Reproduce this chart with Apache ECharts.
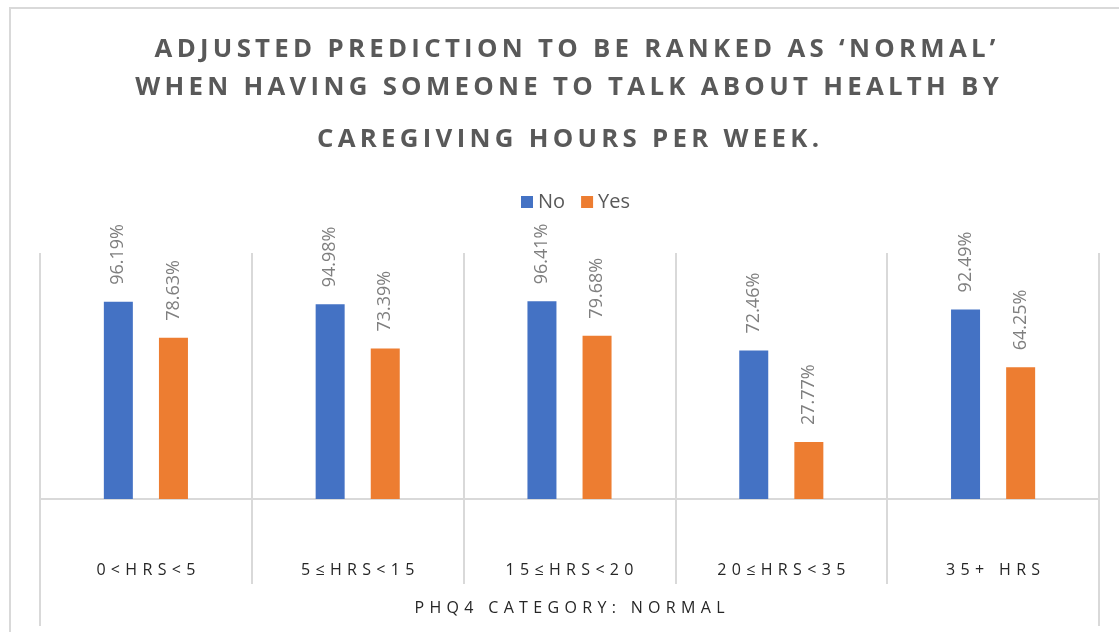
<!DOCTYPE html>
<html>
<head>
<meta charset="utf-8">
<script src="https://cdn.jsdelivr.net/npm/echarts@6/dist/echarts.min.js"></script>
<style>
  html, body { margin: 0; padding: 0; background: #fff; }
  #chart { width: 1119px; height: 632px; }
</style>
</head>
<body>
<div id="chart"></div>
<script>
const titleLines = [
  "ADJUSTED PREDICTION TO BE RANKED AS \u2018NORMAL\u2019",
  "WHEN HAVING SOMEONE TO TALK ABOUT HEALTH BY",
  "CAREGIVING HOURS PER WEEK."
];
const categories = ["0<HRS<5", "5\u2264HRS<15", "15\u2264HRS<20", "20\u2264HRS<35", "35+ HRS"];
const groupLabel = "PHQ4 CATEGORY: NORMAL";
const seriesNames = ["No", "Yes"];
const noValues = [96.19, 94.98, 96.41, 72.46, 92.49];
const yesValues = [78.63, 73.39, 79.68, 27.77, 64.25];

function spaced(s, sep) { return Array.from(s).join(sep); }

const FONT = "'Open Sans', 'Noto Sans', sans-serif";
const chart = echarts.init(document.getElementById('chart'), null, { renderer: 'canvas' });

const titleY = [32, 70, 122];
const titleX = [570, 562, 563];
const option = {
  backgroundColor: '#ffffff',
  animation: false,
  title: titleLines.map((t, i) => ({
    text: spaced(t, '\u2009'),
    left: titleX[i],
    textAlign: 'center',
    top: titleY[i],
    textStyle: { fontFamily: FONT, fontWeight: 'bold', fontSize: 25.8, color: '#595959' }
  })),
  graphic: [{
    type: 'polyline',
    shape: { points: [[10, 640], [10, 8], [1130, 8]] },
    style: { stroke: '#d9d9d9', lineWidth: 2, fill: null },
    silent: true
  }],
  legend: {
    data: seriesNames,
    top: 187,
    left: 516,
    icon: 'rect',
    itemWidth: 12,
    itemHeight: 12,
    itemGap: 16,
    textStyle: { fontFamily: FONT, fontSize: 20, color: '#595959' }
  },
  grid: { left: 40, right: 20, top: 253, bottom: 133, containLabel: false },
  xAxis: [{
    type: 'category',
    data: categories,
    position: 'bottom',
    axisLine: { show: true, lineStyle: { color: '#d9d9d9', width: 2 } },
    axisTick: { show: true, length: 85, lineStyle: { color: '#d9d9d9', width: 2 } },
    splitLine: { show: true, lineStyle: { color: '#d9d9d9', width: 2 } },
    axisLabel: {
      margin: 63,
      fontFamily: FONT, fontSize: 16, color: '#262626',
      formatter: v => spaced(v, '\u2004')
    }
  }, {
    type: 'category',
    data: [groupLabel],
    position: 'bottom',
    axisLine: { show: false },
    axisTick: { show: true, length: 127, lineStyle: { color: '#d9d9d9', width: 2 } },
    splitLine: { show: false },
    axisLabel: {
      margin: 101,
      fontFamily: FONT, fontSize: 16, color: '#262626',
      formatter: v => spaced(v, '\u2004')
    }
  }],
  yAxis: {
    type: 'value', min: 0, max: 120, show: false,
    splitLine: { show: false }
  },
  series: [
    { name: seriesNames[0], data: noValues },
    { name: seriesNames[1], data: yesValues }
  ].map((s, i) => ({
    type: 'bar',
    name: s.name,
    data: s.data,
    xAxisIndex: 0,
    barWidth: 29,
    barGap: '90%',
    itemStyle: { color: i === 0 ? '#4472c4' : '#ed7d31' },
    label: {
      show: true,
      position: 'top',
      rotate: 90,
      align: 'left',
      verticalAlign: 'middle',
      distance: 17,
      fontFamily: FONT,
      fontSize: 18,
      color: '#7f7f7f',
      formatter: p => p.value.toFixed(2) + '%'
    }
  }))
};
chart.setOption(option);
</script>
</body>
</html>
